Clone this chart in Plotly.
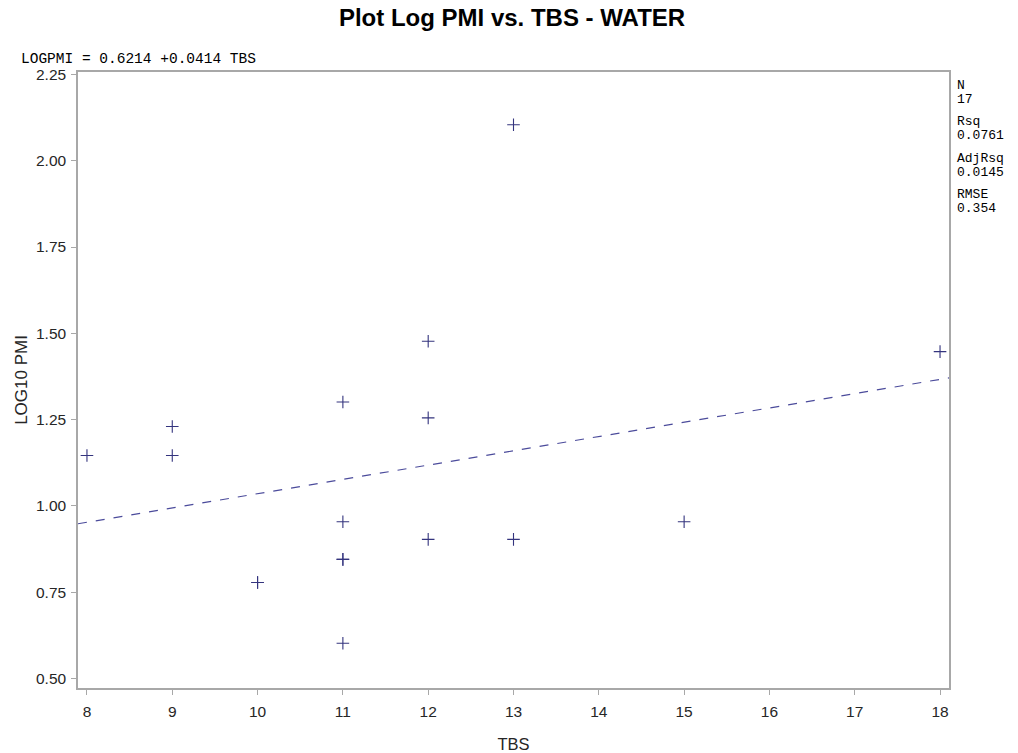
import plotly.graph_objects as go
import numpy as np

# Observations: total body score vs log10 post-mortem interval (water cases)
tbs = [8, 9, 9, 10, 10, 11, 11, 11, 11, 11, 12, 12, 12, 13, 13, 15, 18]
log_pmi = [1.146, 1.230, 1.146, 0.778, 0.778, 1.301, 0.954, 0.845, 0.845, 0.602,
           1.477, 1.255, 0.903, 2.104, 0.903, 0.954, 1.447]

# Fitted regression
intercept = 0.6214
slope = 0.0414
stats_labels = ["N", "17", "Rsq", "0.0761", "AdjRsq", "0.0145", "RMSE", "0.354"]

x_ticks = list(range(8, 19))
y_ticks = [0.50, 0.75, 1.00, 1.25, 1.50, 1.75, 2.00, 2.25]

x_range = [7.895, 18.105]
y_range = [0.4725, 2.257]

fit_x = np.array(x_range)
fit_y = intercept + slope * fit_x

fig = go.Figure()
fig.add_trace(go.Scatter(
    x=fit_x, y=fit_y, mode="lines",
    line=dict(color="#4b4b9b", width=1.2, dash="dash"),
    hoverinfo="skip", showlegend=False,
))
fig.add_trace(go.Scatter(
    x=tbs, y=log_pmi, mode="markers",
    marker=dict(symbol="cross-thin", size=9,
                line=dict(color="#34347e", width=1.1)),
    showlegend=False,
))

axis_common = dict(
    showline=True, linecolor="#a8a8a8", linewidth=1.5, mirror=True,
    ticks="outside", ticklen=5, tickcolor="#a8a8a8", tickwidth=1,
    showgrid=False, zeroline=False, automargin=False,
    tickfont=dict(family="Arial, Liberation Sans", size=15.5, color="#262626"),
)

fig.update_layout(
    width=1018, height=753,
    margin=dict(l=78, r=69, t=72, b=65),
    paper_bgcolor="white", plot_bgcolor="white",
    title=dict(
        text="<b>Plot Log PMI vs. TBS - WATER</b>",
        x=0.503, xanchor="center", y=0.977, yanchor="middle",
        font=dict(family="Arial, Liberation Sans", size=24, color="#000000"),
    ),
    xaxis=dict(range=x_range, tickvals=x_ticks, ticklabelstandoff=4, **axis_common),
    yaxis=dict(range=y_range, tickvals=y_ticks, tickformat=".2f", ticklabelstandoff=2,
               **axis_common),
)

fig.update_xaxes(title=dict(text="TBS", standoff=20,
                            font=dict(family="Arial, Liberation Sans", size=16.5, color="#262626")))
fig.update_yaxes(title=dict(text="LOG10 PMI", standoff=4,
                            font=dict(family="Arial, Liberation Sans", size=17, color="#262626")))

mono_eq = dict(family="Liberation Mono, Courier New, monospace", size=14.5, color="#000000")
mono_stats = dict(family="Liberation Mono, Courier New, monospace", size=13, color="#000000")

fig.add_annotation(
    text=f"LOGPMI = {intercept:.4f} +{slope:.4f} TBS",
    xref="paper", yref="paper", x=-0.068, y=1.0, xanchor="left", yanchor="bottom",
    yshift=3, showarrow=False, font=mono_eq,
)

# Fit statistics stacked to the right of the plot frame
for i, line in enumerate(stats_labels):
    group, row = divmod(i, 2)
    center_px = 85 + group * 36.5 + row * 14
    fig.add_annotation(
        text=line, xref="paper", yref="paper",
        x=1.0, xanchor="left", xshift=6,
        y=1.0, yanchor="middle", yshift=-(center_px - 72),
        showarrow=False, font=mono_stats,
    )

fig.write_html("out.html")
